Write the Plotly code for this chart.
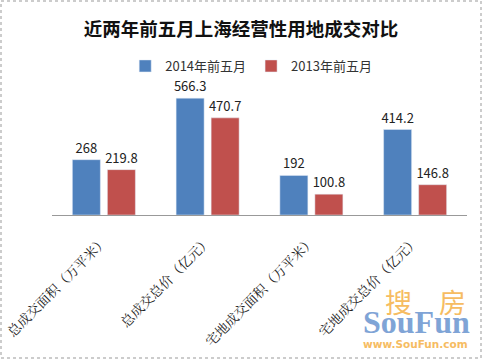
import plotly.graph_objects as go

categories = ["总成交面积（万平米）", "总成交总价（亿元）", "宅地成交面积（万平米）", "宅地成交总价（亿元）"]
series_2014 = [268, 566.3, 192, 414.2]
series_2013 = [219.8, 470.7, 100.8, 146.8]
labels_2014 = ["268", "566.3", "192", "414.2"]
labels_2013 = ["219.8", "470.7", "100.8", "146.8"]

W, H = 482, 359
ml, mr, mt, mb = 52, 15, 85, 144

fig = go.Figure()
fig.add_trace(go.Bar(name="2014年前五月", x=categories, y=series_2014, text=labels_2014,
                     textposition="outside", marker_color="#4F81BD", cliponaxis=False,
                     constraintext="none", textfont=dict(size=13, color="#222")))
fig.add_trace(go.Bar(name="2013年前五月", x=categories, y=series_2013, text=labels_2013,
                     textposition="outside", marker_color="#C0504D", cliponaxis=False,
                     constraintext="none", textfont=dict(size=13, color="#222")))

pw = W - ml - mr
ph = H - mt - mb
fig.update_layout(
    width=W, height=H,
    margin=dict(l=ml, r=mr, t=mt, b=mb, autoexpand=False),
    paper_bgcolor="white", plot_bgcolor="white",
    font=dict(family="Noto Sans CJK SC, sans-serif", size=12, color="#222"),
    title=dict(text="<b>近两年前五月上海经营性用地成交对比</b>", x=0.5, xanchor="center",
               y=1 - 30 / H, yanchor="middle", font=dict(size=18.5, color="#111")),
    barmode="group", bargap=0.325, bargroupgap=0.2,
    showlegend=True,
    legend=dict(orientation="h", x=0.48, xanchor="center", y=1 + 19 / ph, yanchor="middle",
                font=dict(size=13, color="#333"), itemwidth=30, traceorder="normal"),
    xaxis=dict(tickangle=-45, showline=True, linecolor="#999", linewidth=1, automargin=False,
               tickfont=dict(size=13.5, color="#222", family="Noto Serif CJK SC, Noto Sans CJK SC"),
               ticks="", ticklabelstandoff=12),
    yaxis=dict(range=[0, 630], visible=False, showgrid=False, automargin=False),
)

# dashed outer border
fig.add_shape(type="rect", xref="paper", yref="paper",
              x0=(1 - ml) / pw, x1=(W - ml - 1) / pw,
              y0=-(mb - 1) / ph, y1=(H - mb - 1) / ph,
              line=dict(color="#999", width=1, dash="dot"), layer="below")

# watermark
def px(x):
    return (x - ml) / pw

def py(y):
    return (H - mb - y) / ph

orange = "#F6BC62"
blue = "#7FA4D6"
wm = [("搜", 398, 301, 27, orange, "Noto Sans CJK SC"),
      ("房", 452, 301, 27, orange, "Noto Sans CJK SC"),
      ("<b>SouFun</b>", 416, 322, 32, blue, "Liberation Serif"),
      ("<b>www.SouFun.com</b>", 415, 344, 10.5, orange, "DejaVu Sans")]
for t, x, y, s, c, f in wm:
    fig.add_annotation(text=t, xref="paper", yref="paper", x=px(x), y=py(y),
                       xanchor="center", yanchor="middle", showarrow=False,
                       font=dict(size=s, color=c, family=f))

fig.write_html("out.html", config={"displayModeBar": False},
               post_script="document.body.style.margin='0';document.body.style.overflow='hidden';")
